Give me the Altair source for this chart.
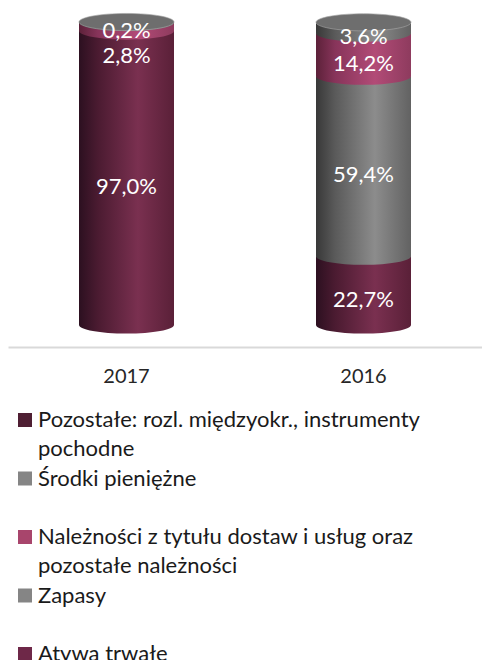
import altair as alt
import pandas as pd

# ---- data ----
years = ["2017", "2016"]
series = [
    "Atywa trwałe",
    "Zapasy",
    "Należności z tytułu dostaw i usług oraz pozostałe należności",
    "Środki pieniężne",
    "Pozostałe: rozl. międzyokr., instrumenty pochodne",
]  # stack order bottom -> top
aktywa = [97.0, 22.7]
zapasy = [0.0, 59.4]
naleznosci = [2.8, 14.2]
srodki = [0.2, 3.6]
pozostale = [0.0, 0.0]
values = [aktywa, zapasy, naleznosci, srodki, pozostale]

# legend order & wrapping as shown in the reference
legend_items = [
    ("Pozostałe: rozl. międzyokr., instrumenty pochodne",
     ["Pozostałe: rozl. międzyokr., instrumenty", "pochodne"]),
    ("Środki pieniężne", ["Środki pieniężne"]),
    None,
    ("Należności z tytułu dostaw i usług oraz pozostałe należności",
     ["Należności z tytułu dostaw i usług oraz", "pozostałe należności"]),
    ("Zapasy", ["Zapasy"]),
    None,
    ("Atywa trwałe", ["Atywa trwałe"]),
]

# ---- styles ----
FONT = "Lato"
base = {
    "Atywa trwałe": ("#2c1020", "#4b1b31", "#7a3050", "#5a2038", "#6e2848"),
    "Zapasy": ("#383838", "#5a5a5a", "#8c8c8c", "#626262", "#858585"),
    "Należności z tytułu dostaw i usług oraz pozostałe należności": ("#5c2139", "#87345a", "#b24b77", "#8e3b5e", "#a8456c"),
    "Środki pieniężne": ("#383838", "#5a5a5a", "#8c8c8c", "#626262", "#858585"),
    "Pozostałe: rozl. międzyokr., instrumenty pochodne": ("#220c17", "#3a1425", "#5e2440", "#46182d", "#4f1f33"),
}
cap_color = {
    "Atywa trwałe": "#7c3453",
    "Zapasy": "#6e6e6e",
    "Należności z tytułu dostaw i usług oraz pozostałe należności": "#b85580",
    "Środki pieniężne": "#6e6e6e",
    "Pozostałe: rozl. międzyokr., instrumenty pochodne": "#5c2a40",
}


def grad(s):
    c = base[s]
    return alt.LinearGradient(
        gradient="linear", x1=0, x2=1, y1=0, y2=0,
        stops=[alt.GradientStop(color=c[0], offset=0),
               alt.GradientStop(color=c[1], offset=0.2),
               alt.GradientStop(color=c[2], offset=0.62),
               alt.GradientStop(color=c[3], offset=1)])


k = 0.5523
r = 0.18
ELLIPSE = (f"M -1 0 C -1 {-k*r:.4f} {-k:.4f} {-r} 0 {-r} "
           f"C {k:.4f} {-r} 1 {-k*r:.4f} 1 0 "
           f"C 1 {k*r:.4f} {k:.4f} {r} 0 {r} "
           f"C {-k:.4f} {r} -1 {k*r:.4f} -1 0 Z")
BAR_W = 95

W, H = 474, 325
YDOM = [-7.26, 100]
px_per_unit = H / (YDOM[1] - YDOM[0])

# ---- build tables ----
rows = []
for i, y in enumerate(years):
    cum = 0.0
    for s, v in zip(series, values):
        rows.append({"year": y, "series": s, "value": v[i], "y0": cum, "y1": cum + v[i]})
        cum += v[i]
df = pd.DataFrame(rows)
df = df[df["value"] > 0]

# labels: centred on segments, pushed apart when overlapping
gap = 25 / px_per_unit
lab_rows = []
for y in years:
    d = df[df["year"] == y].sort_values("y1", ascending=False)
    prev = None
    for _, rr in d.iterrows():
        mid = (rr["y0"] + rr["y1"]) / 2
        pos = mid if prev is None else min(mid, prev - gap)
        prev = pos
        lab_rows.append({"year": y, "ly": pos,
                         "label": f"{rr['value']:.1f}".replace(".", ",") + "%"})
labels = pd.DataFrame(lab_rows)

caps = []
for y in years:
    d = df[df["year"] == y]
    top = d.sort_values("y1").iloc[-1]
    caps.append({"year": y, "top": top["y1"], "series": top["series"]})
caps = pd.DataFrame(caps)

leg_lines, leg_boxes = [], []
slot = 0
for it in legend_items:
    if it is None:
        slot += 1
        continue
    name, lines = it
    leg_boxes.append({"slot": slot, "series": name, "color": base[name][4]})
    for ln in lines:
        leg_lines.append({"slot": slot, "text": ln})
        slot += 1
leg_lines = pd.DataFrame(leg_lines)
leg_boxes = pd.DataFrame(leg_boxes)

# ---- chart ----
yscale = alt.Scale(domain=YDOM, nice=False, zero=False)
X = alt.X("year:N", sort=years, title=None,
          scale=alt.Scale(paddingInner=0, paddingOuter=0),
          axis=alt.Axis(labelAngle=0, ticks=False, tickSize=0, labelPadding=19,
                        labelFont=FONT, labelFontSize=20, labelColor="#262626",
                        domainColor="#d9d9d9", domainWidth=2, grid=False))

layers = []
for s in series:
    sub = df[df["series"] == s]
    if sub.empty:
        continue
    bars = alt.Chart(sub).mark_bar(size=BAR_W, fill=grad(s), strokeWidth=0).encode(
        x=X, y=alt.Y("y0:Q", scale=yscale, axis=None), y2="y1:Q")
    ell = alt.Chart(sub).mark_point(shape=ELLIPSE, size=BAR_W ** 2, filled=True,
                                    fill=grad(s), opacity=1, strokeWidth=0).encode(
        x=X, y=alt.Y("y0:Q", scale=yscale, axis=None))
    layers += [bars, ell]

for s in caps["series"].unique():
    sub = caps[caps["series"] == s]
    cap = alt.Chart(sub).mark_point(shape=ELLIPSE, size=BAR_W ** 2, filled=True,
                                    fill=cap_color[s], opacity=1, stroke="#a6a6a6",
                                    strokeWidth=0.8, strokeOpacity=0.8).encode(
        x=X, y=alt.Y("top:Q", scale=yscale, axis=None))
    layers.append(cap)

text = alt.Chart(labels).mark_text(font=FONT, fontSize=22, color="white", dy=9,
                                   baseline="middle").encode(
    x=X, y=alt.Y("ly:Q", scale=yscale, axis=None), text="label:N")
layers.append(text)

lscale = alt.Scale(domain=[0, 8], range=[398, 632], nice=False, zero=False)
ltext = alt.Chart(leg_lines).mark_text(font=FONT, fontSize=22, color="#1a1a1a",
                                       align="left", baseline="middle").encode(
    x=alt.value(30), y=alt.Y("slot:Q", scale=lscale, axis=None), text="text:N")
lbox = alt.Chart(leg_boxes).mark_square(size=196, opacity=1).encode(
    x=alt.value(17), y=alt.Y("slot:Q", scale=lscale, axis=None),
    color=alt.Color("color:N", scale=None, legend=None))
layers += [lbox, ltext]

chart = alt.layer(*layers).resolve_scale(y="independent").properties(
    width=W, height=H,
    background="white",
    padding={"left": 8, "top": 22, "right": 0, "bottom": 660 - 22 - H},
    autosize=alt.AutoSizeParams(type="none"),
).configure_view(strokeWidth=0, stroke="transparent").configure_axisY(
    domain=False, grid=False, labels=False, ticks=False
)

chart.save("out.html", embed_options={"renderer": "svg", "actions": False})
